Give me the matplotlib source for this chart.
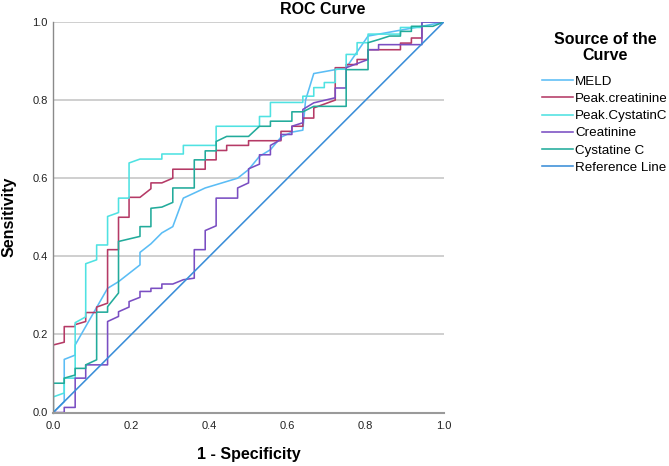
import matplotlib
matplotlib.use("Agg")
import matplotlib.pyplot as plt

plt.rcParams['font.family'] = ['Liberation Sans', 'DejaVu Sans']

# ---- data ----
meld_fpr = [0, 0.028, 0.028, 0.056, 0.056, 0.139, 0.167, 0.222, 0.222, 0.25,
            0.278, 0.306, 0.333, 0.389, 0.472, 0.5, 0.528, 0.556, 0.583, 0.611,
            0.639, 0.646, 0.667, 0.75, 0.806, 0.944, 1.0]
meld_tpr = [0, 0.028, 0.136, 0.147, 0.173, 0.318, 0.335, 0.378, 0.41, 0.432,
            0.46, 0.476, 0.549, 0.575, 0.6, 0.622, 0.656, 0.673, 0.705, 0.718,
            0.723, 0.80, 0.868, 0.883, 0.964, 0.989, 1.0]

pcre_fpr = [0, 0, 0.028, 0.028, 0.056, 0.056, 0.083, 0.083, 0.111, 0.111,
            0.139, 0.139, 0.167, 0.167, 0.194, 0.194, 0.222, 0.25, 0.25, 0.278,
            0.306, 0.306, 0.389, 0.389, 0.417, 0.417, 0.444, 0.444, 0.5, 0.5,
            0.583, 0.583, 0.611, 0.611, 0.639, 0.639, 0.667, 0.667, 0.722, 0.722,
            0.75, 0.75, 0.778, 0.778, 0.806, 0.806, 0.889, 0.889, 0.917, 0.917,
            0.944, 0.944, 1.0]
pcre_tpr = [0, 0.173, 0.18, 0.22, 0.22, 0.225, 0.233, 0.256, 0.256, 0.27,
            0.28, 0.417, 0.417, 0.50, 0.50, 0.551, 0.551, 0.573, 0.588, 0.588,
            0.60, 0.623, 0.623, 0.647, 0.647, 0.671, 0.671, 0.684, 0.684, 0.696,
            0.696, 0.72, 0.72, 0.733, 0.733, 0.754, 0.754, 0.78, 0.80, 0.883,
            0.883, 0.891, 0.891, 0.904, 0.904, 0.929, 0.929, 0.946, 0.946, 0.959,
            0.959, 1.0, 1.0]

pcys_fpr = [0, 0, 0.028, 0.028, 0.056, 0.056, 0.083, 0.083, 0.111, 0.111,
            0.139, 0.139, 0.167, 0.167, 0.194, 0.194, 0.222, 0.278, 0.278, 0.333,
            0.333, 0.417, 0.417, 0.528, 0.528, 0.556, 0.556, 0.639, 0.639, 0.667,
            0.667, 0.694, 0.694, 0.722, 0.722, 0.75, 0.75, 0.778, 0.778, 0.806,
            0.806, 0.889, 0.889, 0.944, 0.944, 1.0]
pcys_tpr = [0, 0.04, 0.05, 0.088, 0.088, 0.23, 0.245, 0.381, 0.391, 0.429,
            0.429, 0.502, 0.512, 0.549, 0.549, 0.639, 0.649, 0.649, 0.662, 0.662,
            0.684, 0.684, 0.733, 0.733, 0.758, 0.758, 0.794, 0.794, 0.81, 0.81,
            0.832, 0.832, 0.845, 0.845, 0.879, 0.879, 0.917, 0.917, 0.947, 0.947,
            0.969, 0.969, 0.986, 0.986, 1.0, 1.0]

crea_fpr = [0, 0.028, 0.028, 0.056, 0.056, 0.083, 0.083, 0.139, 0.139, 0.167,
            0.167, 0.194, 0.194, 0.222, 0.222, 0.25, 0.25, 0.278, 0.278, 0.306,
            0.333, 0.361, 0.361, 0.389, 0.389, 0.417, 0.417, 0.472, 0.472, 0.5,
            0.5, 0.528, 0.528, 0.556, 0.556, 0.583, 0.583, 0.611, 0.611, 0.639,
            0.639, 0.667, 0.722, 0.722, 0.75, 0.75, 0.806, 0.806, 0.833, 0.833,
            0.944, 0.944, 1.0]
crea_tpr = [0, 0, 0.013, 0.013, 0.088, 0.088, 0.122, 0.122, 0.233, 0.246,
            0.258, 0.27, 0.284, 0.295, 0.31, 0.31, 0.318, 0.318, 0.329, 0.329,
            0.34, 0.344, 0.417, 0.417, 0.466, 0.478, 0.549, 0.549, 0.575, 0.588,
            0.624, 0.636, 0.66, 0.66, 0.684, 0.699, 0.712, 0.712, 0.733, 0.742,
            0.776, 0.793, 0.806, 0.831, 0.831, 0.883, 0.904, 0.929, 0.929, 0.942,
            0.942, 1.0, 1.0]

cysc_fpr = [0, 0, 0.028, 0.028, 0.056, 0.056, 0.083, 0.083, 0.111, 0.111,
            0.139, 0.139, 0.167, 0.167, 0.222, 0.222, 0.25, 0.25, 0.278, 0.306,
            0.306, 0.361, 0.361, 0.389, 0.389, 0.417, 0.417, 0.444, 0.5, 0.528,
            0.556, 0.556, 0.611, 0.611, 0.639, 0.667, 0.75, 0.75, 0.806, 0.806,
            0.833, 0.861, 0.889, 0.889, 0.917, 0.917, 0.972, 1.0]
cysc_tpr = [0, 0.075, 0.075, 0.088, 0.096, 0.113, 0.113, 0.122, 0.135, 0.257,
            0.257, 0.271, 0.306, 0.438, 0.451, 0.476, 0.476, 0.523, 0.526, 0.538,
            0.575, 0.575, 0.647, 0.647, 0.67, 0.67, 0.694, 0.707, 0.707, 0.733,
            0.733, 0.746, 0.746, 0.77, 0.77, 0.784, 0.784, 0.878, 0.878, 0.947,
            0.955, 0.964, 0.964, 0.976, 0.976, 0.989, 0.989, 1.0]

ref_x = [0, 1]
ref_y = [0, 1]

labels = ["MELD", "Peak.creatinine", "Peak.CystatinC", "Creatinine",
          "Cystatine C", "Reference Line"]
colors = ["#5BBDF5", "#B53A66", "#4FE2E2", "#7A4EC2", "#22AB9B", "#3A8ED8"]
ticks = [0.0, 0.2, 0.4, 0.6, 0.8, 1.0]
tick_labels = ["0.0", "0.2", "0.4", "0.6", "0.8", "1.0"]

series = [(meld_fpr, meld_tpr), (pcre_fpr, pcre_tpr), (pcys_fpr, pcys_tpr),
          (crea_fpr, crea_tpr), (cysc_fpr, cysc_tpr), (ref_x, ref_y)]

fig = plt.figure(figsize=(6.69, 4.66), dpi=100)
ax = fig.add_axes([53.3 / 669, (466 - 412.5) / 466, 390.5 / 669, 390.5 / 466])

# grid lines
for t in ticks[1:]:
    ax.axhline(t, color="#CFCFCF", lw=1.4, zorder=0)

handles = []
for (xs, ys), lab, col in zip(series, labels, colors):
    ln, = ax.plot(xs, ys, color=col, lw=1.15, label=lab, zorder=2)
    handles.append(ln)

ax.set_xlim(0, 1)
ax.set_ylim(0, 1)
ax.set_xticks(ticks)
ax.set_xticklabels(tick_labels)
ax.set_yticks(ticks)
ax.set_yticklabels(tick_labels)
ax.tick_params(axis="both", length=0, labelsize=8, colors="#222222")
ax.tick_params(axis="x", pad=6)
ax.tick_params(axis="y", pad=4)

for s in ["top", "right"]:
    ax.spines[s].set_visible(False)
ax.spines["left"].set_color("#8A8A8A")
ax.spines["left"].set_linewidth(1.0)
ax.spines["bottom"].set_color("#9A9A9A")
ax.spines["bottom"].set_linewidth(1.5)

fig.text(9 / 669, 1 - 217 / 466, "Sensitivity", rotation=90, ha="center", va="center",
         fontsize=11.5, fontweight="bold")
fig.text(249 / 669, 1 - 455 / 466, "1 - Specificity", ha="center", va="center",
         fontsize=11.5, fontweight="bold")
fig.text(323 / 669, 1 - 9 / 466, "ROC Curve", ha="center", va="center",
         fontsize=11.5, fontweight="bold")

leg = fig.legend(handles=handles, labels=labels, loc="upper left",
                 bbox_to_anchor=(542 / 669, 1 - 32 / 466), frameon=False,
                 fontsize=9.6, handlelength=2.3, handletextpad=0.2,
                 labelspacing=0.36, borderpad=0, borderaxespad=0,
                 title="Source of the\nCurve",
                 title_fontproperties={"weight": "bold", "size": 11.5})
leg.get_title().set_multialignment("center")
leg.get_title().set_linespacing(1.1)
leg._legend_box.sep = 9

fig.savefig("out.png", dpi=100)
